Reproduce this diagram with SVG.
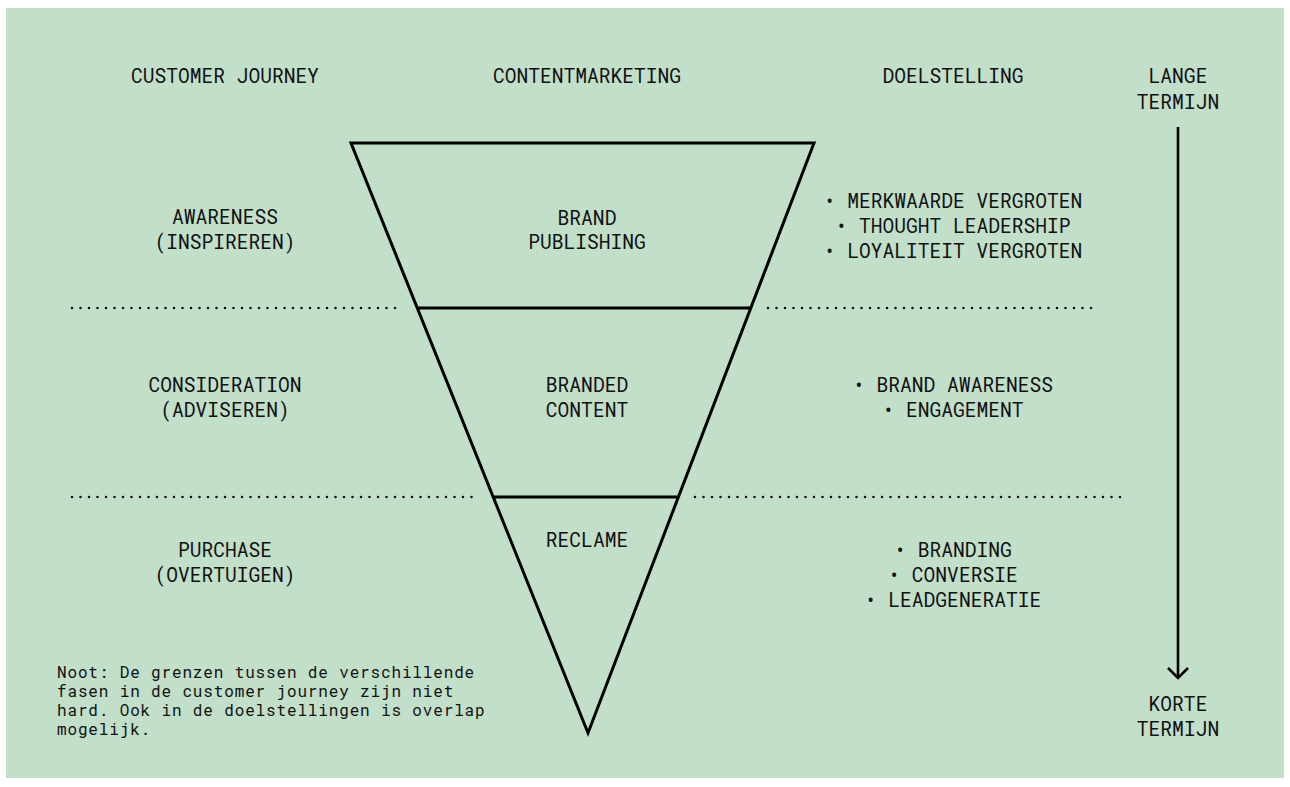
<svg xmlns="http://www.w3.org/2000/svg" width="1290" height="787" viewBox="0 0 1290 787">
<defs>
<style>
text{font-family:"Roboto Mono","DejaVu Sans Mono","Liberation Mono",monospace;fill:#111;}
.t{font-size:19.6px;text-anchor:middle;}
.n{font-size:16px;letter-spacing:0.85px;}
.dot{stroke:#111;stroke-width:2.6;stroke-linecap:round;stroke-dasharray:0 8.5;fill:none;}
.ln{stroke:#000;stroke-width:3;fill:none;stroke-linejoin:miter;}
</style>
<marker id="ah" viewBox="0 0 14 24" refX="12" refY="12" markerWidth="14" markerHeight="24" markerUnits="userSpaceOnUse" orient="auto">
<path d="M2 2 L12 12 L2 22" fill="none" stroke="#000" stroke-width="2.6"/>
</marker>
</defs>
<rect x="0" y="0" width="1290" height="787" fill="#fff"/>
<rect x="6" y="8" width="1278" height="770" fill="#c1dfc9"/>

<g id="headers">
<text class="t" x="225" y="83">CUSTOMER JOURNEY</text>
<text class="t" x="587" y="83">CONTENTMARKETING</text>
<text class="t" x="953" y="83">DOELSTELLING</text>
<text class="t" x="1178" y="83">LANGE</text>
<text class="t" x="1178" y="109">TERMIJN</text>
</g>

<g id="funnel">
<polygon class="ln" points="351,143 814,143 588,733"/>
<line class="ln" x1="418" y1="308" x2="751" y2="308"/>
<line class="ln" x1="493" y1="497" x2="679" y2="497"/>
</g>

<g id="connectors">
<line class="dot" x1="72" y1="308" x2="400" y2="308"/>
<line class="dot" x1="768" y1="308" x2="1097" y2="308"/>
<line class="dot" x1="72" y1="497" x2="477" y2="497"/>
<line class="dot" x1="695" y1="497" x2="1123" y2="497"/>
<line x1="1178" y1="127" x2="1178" y2="678" stroke="#000" stroke-width="2.6" marker-end="url(#ah)"/>
</g>

<g id="stage-awareness">
<text class="t" x="225" y="224">AWARENESS</text>
<text class="t" x="225" y="249">(INSPIREREN)</text>
</g>
<g id="stage-consideration">
<text class="t" x="225" y="392">CONSIDERATION</text>
<text class="t" x="225" y="417">(ADVISEREN)</text>
</g>
<g id="stage-purchase">
<text class="t" x="225" y="557">PURCHASE</text>
<text class="t" x="225" y="582">(OVERTUIGEN)</text>
</g>

<g id="content-brand-publishing">
<text class="t" x="587" y="225">BRAND</text>
<text class="t" x="587" y="249">PUBLISHING</text>
</g>
<g id="content-branded-content">
<text class="t" x="587" y="392">BRANDED</text>
<text class="t" x="587" y="417">CONTENT</text>
</g>
<g id="content-reclame">
<text class="t" x="587" y="547">RECLAME</text>
</g>

<g id="goals-1">
<text class="t" x="953" y="208">• MERKWAARDE VERGROTEN</text>
<text class="t" x="953" y="233">• THOUGHT LEADERSHIP</text>
<text class="t" x="953" y="258">• LOYALITEIT VERGROTEN</text>
</g>
<g id="goals-2">
<text class="t" x="953" y="392">• BRAND AWARENESS</text>
<text class="t" x="953" y="417">• ENGAGEMENT</text>
</g>
<g id="goals-3">
<text class="t" x="953" y="557">• BRANDING</text>
<text class="t" x="953" y="582">• CONVERSIE</text>
<text class="t" x="953" y="607">• LEADGENERATIE</text>
</g>

<g id="korte-termijn">
<text class="t" x="1178" y="711">KORTE</text>
<text class="t" x="1178" y="736">TERMIJN</text>
</g>

<g id="note">
<text class="n" x="57" y="678">Noot: De grenzen tussen de verschillende</text>
<text class="n" x="57" y="697">fasen in de customer journey zijn niet</text>
<text class="n" x="57" y="716">hard. Ook in de doelstellingen is overlap</text>
<text class="n" x="57" y="735">mogelijk.</text>
</g>
</svg>
